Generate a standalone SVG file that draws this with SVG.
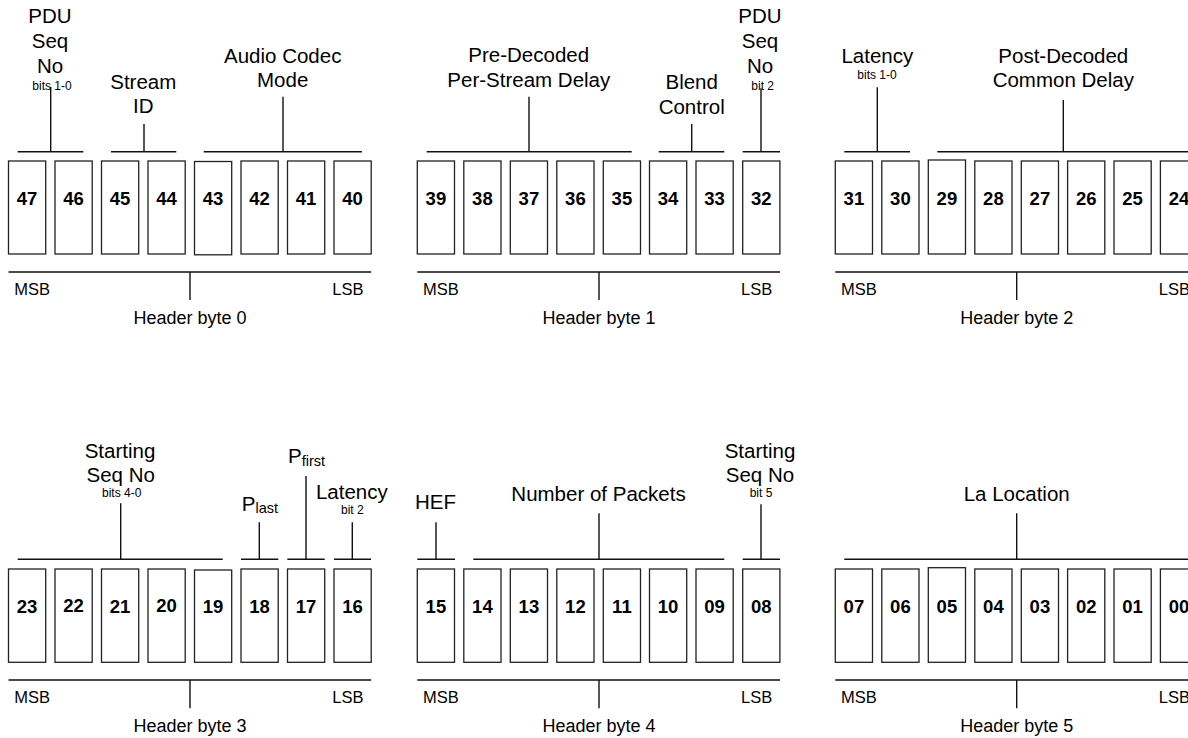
<svg xmlns="http://www.w3.org/2000/svg" width="1188" height="738" viewBox="0 0 1188 738">
<style>
text{font-family:"Liberation Sans",Arial,sans-serif;fill:#000;text-anchor:middle}
.lbl{font-size:20.5px}
.sm{font-size:12px}
.num{font-size:18.5px;font-weight:bold}
.ms{font-size:16.5px}
.ls{font-size:16.5px;text-anchor:end}
.hb{font-size:18px}
.sub{font-size:14.5px}
.box{fill:#fff;stroke:#222;stroke-width:1.3}
.ln{stroke:#111;stroke-width:1.4;fill:none}
</style>
<rect width="1188" height="738" fill="#fff"/>
<g id="bits">
<g id="bit47"><rect class="box" x="8.5" y="161" width="37.2" height="93"/><text class="num" x="27.1" y="205">47</text></g>
<g id="bit46"><rect class="box" x="55" y="161" width="37.2" height="93"/><text class="num" x="73.6" y="205">46</text></g>
<g id="bit45"><rect class="box" x="101.5" y="161" width="37.2" height="93"/><text class="num" x="120.1" y="205">45</text></g>
<g id="bit44"><rect class="box" x="148" y="161" width="37.2" height="93"/><text class="num" x="166.6" y="205">44</text></g>
<g id="bit43"><rect class="box" x="194.5" y="161.5" width="37.2" height="93.3"/><text class="num" x="213.1" y="205">43</text></g>
<g id="bit42"><rect class="box" x="241" y="161" width="37.2" height="93"/><text class="num" x="259.6" y="205">42</text></g>
<g id="bit41"><rect class="box" x="287.5" y="161" width="37.2" height="93"/><text class="num" x="306.1" y="205">41</text></g>
<g id="bit40"><rect class="box" x="334" y="161" width="37.2" height="93"/><text class="num" x="352.6" y="205">40</text></g>

<g id="bit39"><rect class="box" x="417.3" y="161" width="37.2" height="93"/><text class="num" x="435.9" y="205">39</text></g>
<g id="bit38"><rect class="box" x="463.8" y="161" width="37.2" height="93"/><text class="num" x="482.4" y="205">38</text></g>
<g id="bit37"><rect class="box" x="510.3" y="161" width="37.2" height="93"/><text class="num" x="528.9" y="205">37</text></g>
<g id="bit36"><rect class="box" x="556.8" y="161" width="37.2" height="93"/><text class="num" x="575.4" y="205">36</text></g>
<g id="bit35"><rect class="box" x="603.3" y="161" width="37.2" height="93"/><text class="num" x="621.9" y="205">35</text></g>
<g id="bit34"><rect class="box" x="649.5" y="161" width="37.2" height="93"/><text class="num" x="668.1" y="205">34</text></g>
<g id="bit33"><rect class="box" x="696" y="161" width="37.2" height="93"/><text class="num" x="714.6" y="205">33</text></g>
<g id="bit32"><rect class="box" x="742.7" y="161" width="37.2" height="93"/><text class="num" x="761.3" y="205">32</text></g>

<g id="bit31"><rect class="box" x="835.3" y="161" width="37.2" height="93"/><text class="num" x="853.9" y="205">31</text></g>
<g id="bit30"><rect class="box" x="881.8" y="161" width="37.2" height="93"/><text class="num" x="900.4" y="205">30</text></g>
<g id="bit29"><rect class="box" x="928.3" y="160" width="37.2" height="94"/><text class="num" x="946.9" y="205">29</text></g>
<g id="bit28"><rect class="box" x="974.8" y="161" width="37.2" height="93"/><text class="num" x="993.4" y="205">28</text></g>
<g id="bit27"><rect class="box" x="1021.3" y="161" width="37.2" height="93"/><text class="num" x="1039.9" y="205">27</text></g>
<g id="bit26"><rect class="box" x="1067.6" y="161" width="37.2" height="93"/><text class="num" x="1086.2" y="205">26</text></g>
<g id="bit25"><rect class="box" x="1114" y="161" width="37.2" height="93"/><text class="num" x="1132.6" y="205">25</text></g>
<g id="bit24"><rect class="box" x="1160.4" y="161" width="37.2" height="93"/><text class="num" x="1179" y="205">24</text></g>

<g id="bit23"><rect class="box" x="8.5" y="569" width="37.2" height="93.3"/><text class="num" x="27.1" y="613.3">23</text></g>
<g id="bit22"><rect class="box" x="55" y="569" width="37.2" height="93.3"/><text class="num" x="73.6" y="612">22</text></g>
<g id="bit21"><rect class="box" x="101.5" y="569" width="37.2" height="93.3"/><text class="num" x="120.1" y="613.3">21</text></g>
<g id="bit20"><rect class="box" x="148" y="569" width="37.2" height="93.3"/><text class="num" x="166.6" y="612">20</text></g>
<g id="bit19"><rect class="box" x="194.5" y="570" width="37.2" height="92.3"/><text class="num" x="213.1" y="613.3">19</text></g>
<g id="bit18"><rect class="box" x="241" y="569" width="37.2" height="93.3"/><text class="num" x="259.6" y="613.3">18</text></g>
<g id="bit17"><rect class="box" x="287.5" y="569" width="37.2" height="93.3"/><text class="num" x="306.1" y="613.3">17</text></g>
<g id="bit16"><rect class="box" x="334" y="569" width="37.2" height="93.3"/><text class="num" x="352.6" y="613.3">16</text></g>

<g id="bit15"><rect class="box" x="417.3" y="569" width="37.2" height="93.3"/><text class="num" x="435.9" y="613.3">15</text></g>
<g id="bit14"><rect class="box" x="463.8" y="569" width="37.2" height="93.3"/><text class="num" x="482.4" y="613.3">14</text></g>
<g id="bit13"><rect class="box" x="510.3" y="569" width="37.2" height="93.3"/><text class="num" x="528.9" y="613.3">13</text></g>
<g id="bit12"><rect class="box" x="556.8" y="569" width="37.2" height="93.3"/><text class="num" x="575.4" y="613.3">12</text></g>
<g id="bit11"><rect class="box" x="603.3" y="569" width="37.2" height="93.3"/><text class="num" x="621.9" y="613.3">11</text></g>
<g id="bit10"><rect class="box" x="649.5" y="569" width="37.2" height="93.3"/><text class="num" x="668.1" y="613.3">10</text></g>
<g id="bit09"><rect class="box" x="696" y="569" width="37.2" height="93.3"/><text class="num" x="714.6" y="613.3">09</text></g>
<g id="bit08"><rect class="box" x="742.7" y="569" width="37.2" height="93.3"/><text class="num" x="761.3" y="613.3">08</text></g>

<g id="bit07"><rect class="box" x="835.3" y="569" width="37.2" height="93.3"/><text class="num" x="853.9" y="613.3">07</text></g>
<g id="bit06"><rect class="box" x="881.8" y="569" width="37.2" height="93.3"/><text class="num" x="900.4" y="613.3">06</text></g>
<g id="bit05"><rect class="box" x="928.3" y="567.7" width="37.2" height="94.6"/><text class="num" x="946.9" y="613.3">05</text></g>
<g id="bit04"><rect class="box" x="974.8" y="569" width="37.2" height="93.3"/><text class="num" x="993.4" y="613.3">04</text></g>
<g id="bit03"><rect class="box" x="1021.3" y="569" width="37.2" height="93.3"/><text class="num" x="1039.9" y="613.3">03</text></g>
<g id="bit02"><rect class="box" x="1067.6" y="569" width="37.2" height="93.3"/><text class="num" x="1086.2" y="613.3">02</text></g>
<g id="bit01"><rect class="box" x="1114" y="569" width="37.2" height="93.3"/><text class="num" x="1132.6" y="613.3">01</text></g>
<g id="bit00"><rect class="box" x="1160.4" y="569" width="37.2" height="93.3"/><text class="num" x="1179" y="613.3">00</text></g>
</g>

<g id="connectors" class="ln">
<path class="ln" d="M17.7 151.7H83.3M50.7 87V151.7 M111 151.7H176.3M144 124V151.7 M203.7 151.7H362M283 96.7V151.7"/>
<path class="ln" d="M426.7 151.7H631.7M529 96.7V151.7 M658.7 151.7H724.3M691.7 124V151.7 M742.7 151.7H780M761 88.3V151.7"/>
<path class="ln" d="M844.3 151.7H910M877.3 87.3V151.7 M937.3 151.7H1200M1063.3 100V151.7"/>
<path class="ln" d="M8.5 272H371.2M190 272V300 M417.3 272H780M599 272V300 M835.3 272H1200M1016.7 272V300"/>
<path class="ln" d="M17.7 559.3H222.7M120.7 503.3V559.3 M241 559.3H278.3M259.3 522.3V559.3 M287.3 559.3H324.7M306 476V559.3 M334 559.3H371M352.3 522.3V559.3"/>
<path class="ln" d="M417.3 559.3H455M436 522.3V559.3 M473.3 559.3H724.3M599 513.3V559.3 M742.7 559.3H780M761 504.3V559.3"/>
<path class="ln" d="M844.3 559.3H1200M1016.7 513.3V559.3"/>
<path class="ln" d="M8.5 680H371.2M190 680V708.3 M417.3 680H780M599 680V708.3 M835.3 680H1200M1016.7 680V708.3"/>
</g>

<g id="field-pdu-seq-no-lo"><text class="lbl" x="50" y="23.3">PDU</text><text class="lbl" x="50" y="48.3">Seq</text><text class="lbl" x="50" y="72.7">No</text><text class="sm" x="52" y="90">bits 1-0</text></g>
<g id="field-stream-id"><text class="lbl" x="143.3" y="89.3">Stream</text><text class="lbl" x="143.3" y="113.3">ID</text></g>
<g id="field-audio-codec-mode"><text class="lbl" x="282.7" y="62.7">Audio Codec</text><text class="lbl" x="282.7" y="87.3">Mode</text></g>
<g id="field-pre-decoded"><text class="lbl" x="528.7" y="62.3">Pre-Decoded</text><text class="lbl" x="528.8" y="87.3">Per-Stream Delay</text></g>
<g id="field-blend-control"><text class="lbl" x="691.7" y="89.3">Blend</text><text class="lbl" x="691.7" y="114">Control</text></g>
<g id="field-pdu-seq-no-hi"><text class="lbl" x="760" y="23.3">PDU</text><text class="lbl" x="760" y="48.3">Seq</text><text class="lbl" x="760" y="72.7">No</text><text class="sm" x="762.7" y="90">bit 2</text></g>
<g id="field-latency-lo"><text class="lbl" x="877.3" y="62.7">Latency</text><text class="sm" x="877" y="79">bits 1-0</text></g>
<g id="field-post-decoded"><text class="lbl" x="1063.3" y="62.7">Post-Decoded</text><text class="lbl" x="1063.3" y="87.3">Common Delay</text></g>

<g id="field-starting-seq-lo"><text class="lbl" x="120" y="458.3">Starting</text><text class="lbl" x="120.7" y="482.3">Seq No</text><text class="sm" x="121.7" y="497.3">bits 4-0</text></g>
<g id="field-plast"><text class="lbl" x="260" y="510.7">P<tspan class="sub" dy="2">last</tspan></text></g>
<g id="field-pfirst"><text class="lbl" x="306.5" y="463.3">P<tspan class="sub" dy="3">first</tspan></text></g>
<g id="field-latency-hi"><text class="lbl" x="351.8" y="499">Latency</text><text class="sm" x="352.3" y="514.3">bit 2</text></g>
<g id="field-hef"><text class="lbl" x="435.5" y="509.3">HEF</text></g>
<g id="field-number-of-packets"><text class="lbl" x="598.5" y="501">Number of Packets</text></g>
<g id="field-starting-seq-hi"><text class="lbl" x="760" y="458.3">Starting</text><text class="lbl" x="760" y="482.3">Seq No</text><text class="sm" x="761" y="497.3">bit 5</text></g>
<g id="field-la-location"><text class="lbl" x="1016.7" y="501">La Location</text></g>

<g id="byte0-label"><text class="ms" x="14.2" y="295" style="text-anchor:start">MSB</text><text class="ls" x="363.5" y="295">LSB</text><text class="hb" x="190" y="324">Header byte 0</text></g>
<g id="byte1-label"><text class="ms" x="423" y="295" style="text-anchor:start">MSB</text><text class="ls" x="772.3" y="295">LSB</text><text class="hb" x="599" y="324">Header byte 1</text></g>
<g id="byte2-label"><text class="ms" x="841" y="295" style="text-anchor:start">MSB</text><text class="ls" x="1190" y="295">LSB</text><text class="hb" x="1016.7" y="324">Header byte 2</text></g>
<g id="byte3-label"><text class="ms" x="14.2" y="702.7" style="text-anchor:start">MSB</text><text class="ls" x="363.5" y="702.7">LSB</text><text class="hb" x="190" y="731.7">Header byte 3</text></g>
<g id="byte4-label"><text class="ms" x="423" y="702.7" style="text-anchor:start">MSB</text><text class="ls" x="772.3" y="702.7">LSB</text><text class="hb" x="599" y="731.7">Header byte 4</text></g>
<g id="byte5-label"><text class="ms" x="841" y="702.7" style="text-anchor:start">MSB</text><text class="ls" x="1190" y="702.7">LSB</text><text class="hb" x="1016.7" y="731.7">Header byte 5</text></g>
</svg>
